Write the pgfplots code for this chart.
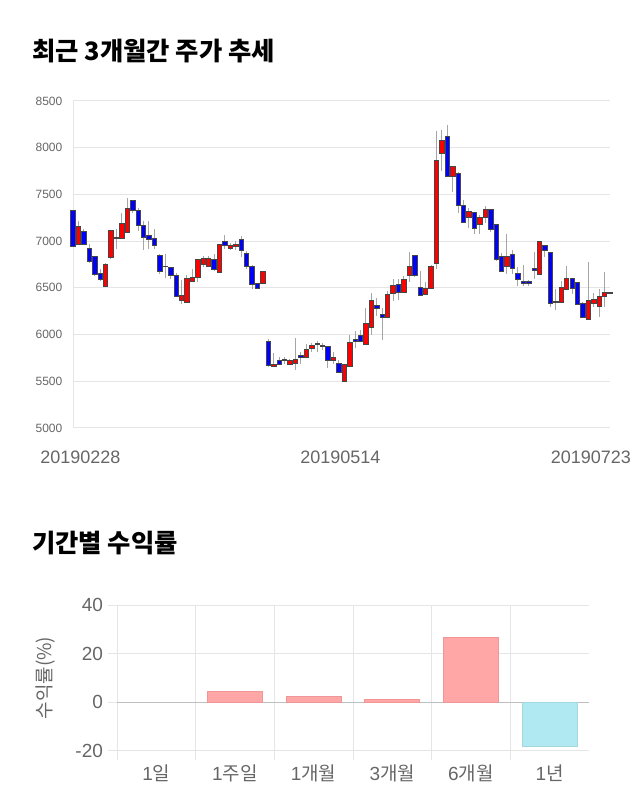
\documentclass[border=0pt]{standalone}
\usepackage{fontspec}
\setmainfont{Liberation Sans}
\newfontfamily\kr{Noto Sans CJK KR}
\usepackage{pgfplots}
\usepackage{pgfplotstable}
\pgfplotsset{compat=1.18}
\definecolor{gridgray}{RGB}{229,229,229}
\definecolor{zerogray}{RGB}{190,190,190}
\definecolor{labelgray}{RGB}{102,102,102}
\definecolor{wick}{RGB}{165,165,165}
\definecolor{candleup}{RGB}{255,0,0}
\definecolor{candledown}{RGB}{0,0,255}
\definecolor{candleedge}{RGB}{70,70,70}
\definecolor{barred}{RGB}{255,166,166}
\definecolor{barredline}{RGB}{240,150,150}
\definecolor{barblue}{RGB}{176,233,241}
\definecolor{barblueline}{RGB}{160,215,225}

% x: trading day index (0 = 20190228, 50 = 20190514, 99 = 20190723)
% low, bot = min(open,close), top = max(open,close), high, up = 1 if close>=open
\pgfplotstableread{
x low bot top high up
0 6940 6945 7325 7330 0
1 6965 6970 7155 7215 1
2 6955 6970 7110 7135 0
3 6765 6780 6925 6965 0
4 6630 6645 6840 6845 0
5 6570 6595 6660 6700 0
6 6510 6520 6750 6765 1
7 6810 6830 7120 7120 1
8 6915 7035 7045 7125 1
9 7030 7030 7195 7300 1
10 7095 7095 7355 7465 1
11 7305 7335 7440 7440 0
12 7110 7170 7335 7360 0
13 6905 7040 7165 7215 0
14 6915 7020 7065 7215 0
15 6915 6950 7030 7125 0
16 6645 6680 6845 6865 0
17 6610 6725 6735 6860 0
18 6595 6630 6715 6725 0
19 6400 6405 6630 6655 0
20 6325 6370 6415 6585 1
21 6350 6350 6600 6635 1
22 6565 6570 6610 6700 1
23 6565 6615 6800 6800 1
24 6720 6755 6815 6845 1
25 6735 6735 6815 6840 1
26 6680 6700 6800 6860 0
27 6665 6670 6970 6970 1
28 6915 6960 7000 7065 0
29 6910 6925 6950 6985 1
30 6910 6945 6970 7000 1
31 6835 6905 7015 7050 0
32 6700 6725 6870 6895 0
33 6485 6535 6735 6740 0
34 6495 6500 6545 6550 0
35 6540 6545 6680 6680 1
36 5655 5670 5930 5955 0
37 5655 5655 5680 5805 1
38 5670 5680 5720 5760 0
39 5685 5725 5735 5760 0
40 5670 5680 5720 5740 1
41 5620 5690 5730 5965 1
42 5690 5760 5780 5815 0
43 5745 5760 5845 5895 1
44 5815 5850 5885 5905 1
45 5815 5900 5905 5930 1
46 5830 5870 5885 5910 0
47 5645 5725 5870 5880 0
48 5690 5720 5760 5815 1
49 5585 5600 5690 5725 0
50 5490 5500 5680 5680 1
51 5650 5655 5915 5995 1
52 5855 5930 5950 6040 0
53 5930 5930 5995 6045 0
54 5890 5895 6120 6280 1
55 6000 6080 6370 6450 1
56 6200 6285 6315 6395 0
57 5945 6180 6220 6280 0
58 6180 6180 6430 6465 1
59 6360 6445 6525 6590 1
60 6375 6455 6535 6590 0
61 6455 6455 6590 6625 1
62 6565 6635 6735 6885 1
63 6620 6630 6845 6850 0
64 6410 6425 6505 6680 0
65 6420 6430 6490 6565 1
66 6490 6490 6725 6740 1
67 6705 6760 7860 8180 1
68 7755 7940 8080 8190 1
69 7690 7695 8125 8240 0
70 7530 7690 7805 7805 1
71 7305 7380 7730 7735 0
72 7200 7205 7380 7440 0
73 7145 7250 7320 7350 1
74 7080 7135 7305 7310 0
75 7080 7180 7255 7285 1
76 7195 7260 7340 7375 1
77 7100 7130 7340 7345 0
78 6790 6805 7180 7185 0
79 6680 6680 6840 6875 0
80 6650 6735 6840 7080 1
81 6650 6705 6855 6910 0
82 6520 6590 6660 6725 0
83 6525 6545 6570 6740 0
84 6515 6550 6570 6585 0
85 6600 6690 6710 6885 0
86 6650 6650 6995 7000 1
87 6830 6900 6955 6960 0
88 6300 6330 6875 6880 0
89 6260 6345 6360 6490 0
90 6340 6340 6505 6575 1
91 6480 6480 6605 6730 1
92 6435 6490 6600 6605 0
93 6320 6325 6555 6560 0
94 6175 6180 6330 6350 0
95 6160 6160 6365 6775 1
96 6290 6330 6375 6450 1
97 6190 6300 6410 6490 1
98 6295 6410 6450 6665 1
99 6435 6440 6455 6460 1
}\candles

% body: rectangle from the point (x, bot) upward by (top-bot) data units
% y scale = 245.25pt / 3500 = 0.0700714pt per unit
\pgfdeclareplotmark{candlebody}{%
  \pgfpathrectangle{\pgfpoint{-1.65pt}{0pt}}{\pgfpoint{3.3pt}{\bodyh*0.0700714pt}}%
  \pgfusepathqfillstroke}

\begin{document}
\begin{tikzpicture}
\useasboundingbox (0,0) rectangle (480pt,607.5pt);
\node[anchor=west, inner sep=0pt] at (24pt,569.25pt) {\kr\bfseries\fontsize{19}{22}\selectfont 최근 3개월간 주가 추세};
\node[anchor=west, inner sep=0pt] at (24pt,200.25pt) {\kr\bfseries\fontsize{19}{22}\selectfont 기간별 수익률};

\begin{axis}[
  at={(54.75pt,286.5pt)}, anchor=south west,
  scale only axis, width=402.75pt, height=245.25pt,
  xmin=0, xmax=99, ymin=5000, ymax=8500,
  axis line style={draw=none},
  ytick={5000,5500,...,8500},
  ymajorgrids, grid style={draw=gridgray, line width=0.75pt},
  major tick length=0pt,
  xtick={0,50,99},
  xticklabels={\hspace*{11pt}20190228, \hspace*{-5.6pt}20190514, 20190723\hspace*{28.6pt}},
  extra x ticks={0}, extra x tick labels={}, extra x tick style={grid=major},
  yticklabel style={font=\fontsize{9}{10}\selectfont, text=labelgray, xshift=-4.5pt},
  xticklabel style={font=\fontsize{13.5}{15}\selectfont, text=labelgray, yshift=-14pt},
  /pgf/number format/assume math mode=true,
  /pgf/number format/1000 sep={},
]
% wicks
\addplot[draw=none, mark=none,
  error bars/.cd, y dir=plus, y explicit, error mark=none,
  error bar style={draw=wick, line width=0.75pt}]
  table[x=x, y=low, y error expr=\thisrow{high}-\thisrow{low}] {\candles};
% rising bodies
\addplot[only marks, mark=candlebody,
  mark options={fill=candleup, draw=candleedge, line width=0.5pt},
  visualization depends on={\thisrow{top}-\thisrow{bot} \as \bodyh},
  restrict expr to domain={\thisrow{up}}{1:1}]
  table[x=x, y=bot] {\candles};
% falling bodies
\addplot[only marks, mark=candlebody,
  mark options={fill=candledown, draw=candleedge, line width=0.5pt},
  visualization depends on={\thisrow{top}-\thisrow{bot} \as \bodyh},
  restrict expr to domain={\thisrow{up}}{0:0}]
  table[x=x, y=bot] {\candles};
\end{axis}

\begin{axis}[
  at={(87.75pt,44.25pt)}, anchor=south west,
  scale only axis, width=354pt, height=109.5pt,
  xmin=0, xmax=6, ymin=-20, ymax=40,
  axis line style={draw=none},
  xtick={0,...,5},
  xticklabels={1{\kr 일}, 1{\kr 주일}, 1{\kr 개월}, 3{\kr 개월}, 6{\kr 개월}, 1{\kr 년}},
  xticklabel style={xshift=29.5pt, font=\fontsize{14.25}{16}\selectfont, text=labelgray},
  ytick={-20,0,20,40},
  yticklabel style={font=\fontsize{14.25}{16}\selectfont, text=labelgray},
  xmajorgrids, ymajorgrids, grid style={draw=gridgray, line width=0.75pt},
  tick align=outside, tick pos=left, major tick length=7pt,
  tick style={draw=gridgray, line width=0.75pt},
  ylabel={\kr 수익률(\%)},
  every axis y label/.style={at={(axis description cs:-0.1505,0.5)}, rotate=90, anchor=center, font=\fontsize{14.25}{16}\selectfont, text=labelgray},
  /pgf/number format/assume math mode=true,
]
\addplot[zerogray, line width=0.75pt] coordinates {(0,0) (6,0)};
\addplot[ybar, bar width=0.7, bar shift=0pt, draw=none, fill=none] coordinates {(0.5,0)};
\addplot[ybar, bar width=0.7, bar shift=0pt, fill=barred, draw=barredline, line width=0.75pt] coordinates {(1.5,4.5) (2.5,2.45) (3.5,1.2) (4.5,26.6)};
\addplot[ybar, bar width=0.7, bar shift=0pt, fill=barblue, draw=barblueline, line width=0.75pt] coordinates {(5.5,-18.2)};
\end{axis}
\end{tikzpicture}
\end{document}
